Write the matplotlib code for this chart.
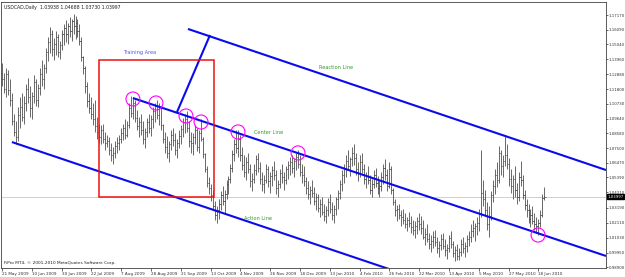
import numpy as np
import matplotlib
matplotlib.use("Agg")
import matplotlib.pyplot as plt
import matplotlib.transforms as mtransforms
from matplotlib.patches import Rectangle, Ellipse

# header / footer texts
header_text = "USDCAD,Daily  1.03938 1.04688 1.03730 1.03997"
footer_text = "FiPro MT4, \u00a9 2001-2010 MetaQuotes Software Corp."

# daily bars, 21 May 2009 .. 23 Jun 2010
first_open = 1.1300
bar_high = [
    1.1370, 1.1300, 1.1330, 1.1320, 1.1250, 1.1150, 1.1000, 1.0950, 1.1050, 1.1120,
    1.1150, 1.1130, 1.1220, 1.1260, 1.1200, 1.1160, 1.1280, 1.1250, 1.1220, 1.1330,
    1.1390, 1.1360, 1.1480, 1.1560, 1.1630, 1.1610, 1.1550, 1.1600, 1.1580, 1.1530,
    1.1610, 1.1650, 1.1680, 1.1660, 1.1700, 1.1690, 1.1725, 1.1710, 1.1690, 1.1650,
    1.1560, 1.1420, 1.1350, 1.1230, 1.1150, 1.1120, 1.1080, 1.1100, 1.0980, 1.0930,
    1.0920, 1.0930, 1.0870, 1.0850, 1.0830, 1.0790, 1.0760, 1.0800, 1.0830, 1.0850,
    1.0900, 1.0930, 1.0960, 1.0950, 1.1080, 1.1130, 1.1120, 1.1100, 1.1030, 1.0980,
    1.1000, 1.0950, 1.0900, 1.0970, 1.1000, 1.0990, 1.1050, 1.1080, 1.1100, 1.1080,
    1.1060, 1.0930, 1.0870, 1.0840, 1.0800, 1.0880, 1.0900, 1.0860, 1.0820, 1.0880,
    1.0920, 1.0970, 1.1000, 1.1020, 1.0950, 1.0870, 1.0860, 1.0920, 1.0900, 1.0880,
    1.0960, 1.0830, 1.0720, 1.0620, 1.0540, 1.0490, 1.0450, 1.0370, 1.0330, 1.0380,
    1.0440, 1.0480, 1.0450, 1.0520, 1.0550, 1.0640, 1.0740, 1.0820, 1.0880, 1.0880,
    1.0850, 1.0760, 1.0700, 1.0690, 1.0720, 1.0640, 1.0570, 1.0640, 1.0700, 1.0720,
    1.0650, 1.0580, 1.0560, 1.0640, 1.0620, 1.0580, 1.0620, 1.0660, 1.0590, 1.0520,
    1.0600, 1.0640, 1.0580, 1.0620, 1.0660, 1.0690, 1.0700, 1.0680, 1.0720, 1.0740,
    1.0700, 1.0640, 1.0620, 1.0540, 1.0510, 1.0480, 1.0520, 1.0470, 1.0430, 1.0420,
    1.0380, 1.0400, 1.0350, 1.0330, 1.0390, 1.0420, 1.0360, 1.0340, 1.0400, 1.0450,
    1.0520, 1.0590, 1.0640, 1.0700, 1.0740, 1.0690, 1.0760, 1.0780, 1.0720, 1.0650,
    1.0700, 1.0720, 1.0640, 1.0580, 1.0620, 1.0560, 1.0530, 1.0590, 1.0610, 1.0550,
    1.0520, 1.0580, 1.0640, 1.0670, 1.0600, 1.0650, 1.0620, 1.0460, 1.0380, 1.0340,
    1.0350, 1.0300, 1.0310, 1.0280, 1.0250, 1.0290, 1.0260, 1.0230, 1.0220, 1.0250,
    1.0280, 1.0260, 1.0230, 1.0170, 1.0200, 1.0140, 1.0120, 1.0150, 1.0160, 1.0110,
    1.0080, 1.0130, 1.0140, 1.0090, 1.0060, 1.0120, 1.0150, 1.0080, 1.0040, 1.0060,
    1.0030, 1.0090, 1.0110, 1.0070, 1.0120, 1.0150, 1.0200, 1.0230, 1.0210, 1.0250,
    1.0310, 1.0740, 1.0520, 1.0450, 1.0360, 1.0330, 1.0440, 1.0520, 1.0600, 1.0650,
    1.0770, 1.0740, 1.0700, 1.0850, 1.0780, 1.0680, 1.0600, 1.0560, 1.0620, 1.0500,
    1.0580, 1.0660, 1.0560, 1.0450, 1.0380, 1.0350, 1.0310, 1.0330, 1.0280, 1.0250,
    1.0240, 1.0300, 1.0420, 1.04688,
]
bar_low = [
    1.1200, 1.1150, 1.1120, 1.1140, 1.1060, 1.0920, 1.0840, 1.0780, 1.0800, 1.0900,
    1.0950, 1.0930, 1.1020, 1.1080, 1.0980, 1.0960, 1.1080, 1.1060, 1.1050, 1.1140,
    1.1200, 1.1180, 1.1300, 1.1380, 1.1440, 1.1420, 1.1390, 1.1430, 1.1410, 1.1400,
    1.1460, 1.1500, 1.1520, 1.1510, 1.1560, 1.1530, 1.1580, 1.1540, 1.1560, 1.1500,
    1.1380, 1.1290, 1.1150, 1.1050, 1.1010, 1.0960, 1.0920, 1.0870, 1.0820, 1.0790,
    1.0780, 1.0790, 1.0740, 1.0760, 1.0700, 1.0660, 1.0640, 1.0680, 1.0720, 1.0740,
    1.0790, 1.0810, 1.0820, 1.0830, 1.0900, 1.0980, 1.0960, 1.0940, 1.0880, 1.0830,
    1.0850, 1.0780, 1.0750, 1.0830, 1.0860, 1.0840, 1.0900, 1.0940, 1.0960, 1.0920,
    1.0880, 1.0790, 1.0720, 1.0680, 1.0650, 1.0740, 1.0770, 1.0700, 1.0680, 1.0750,
    1.0780, 1.0830, 1.0860, 1.0870, 1.0760, 1.0720, 1.0700, 1.0780, 1.0730, 1.0720,
    1.0800, 1.0680, 1.0580, 1.0470, 1.0420, 1.0370, 1.0300, 1.0230, 1.0210, 1.0240,
    1.0300, 1.0340, 1.0280, 1.0380, 1.0420, 1.0500, 1.0580, 1.0660, 1.0720, 1.0690,
    1.0660, 1.0590, 1.0540, 1.0520, 1.0570, 1.0470, 1.0440, 1.0500, 1.0560, 1.0580,
    1.0490, 1.0440, 1.0430, 1.0500, 1.0470, 1.0430, 1.0480, 1.0520, 1.0420, 1.0400,
    1.0460, 1.0500, 1.0450, 1.0490, 1.0530, 1.0560, 1.0570, 1.0540, 1.0590, 1.0610,
    1.0550, 1.0500, 1.0480, 1.0420, 1.0380, 1.0350, 1.0400, 1.0340, 1.0300, 1.0290,
    1.0250, 1.0270, 1.0220, 1.0210, 1.0260, 1.0280, 1.0230, 1.0210, 1.0270, 1.0310,
    1.0380, 1.0440, 1.0500, 1.0540, 1.0590, 1.0550, 1.0620, 1.0630, 1.0560, 1.0510,
    1.0540, 1.0570, 1.0490, 1.0460, 1.0490, 1.0420, 1.0400, 1.0460, 1.0470, 1.0420,
    1.0400, 1.0440, 1.0490, 1.0520, 1.0440, 1.0460, 1.0420, 1.0340, 1.0260, 1.0220,
    1.0240, 1.0190, 1.0200, 1.0170, 1.0150, 1.0180, 1.0140, 1.0120, 1.0100, 1.0130,
    1.0160, 1.0130, 1.0090, 1.0050, 1.0070, 1.0020, 1.0000, 1.0030, 1.0040, 0.9990,
    0.9960, 1.0010, 1.0020, 0.9970, 0.9950, 1.0000, 1.0030, 0.9960, 0.9930, 0.9940,
    0.9940, 0.9970, 0.9990, 0.9960, 1.0000, 1.0040, 1.0070, 1.0110, 1.0080, 1.0120,
    1.0150, 1.0250, 1.0330, 1.0260, 1.0160, 1.0110, 1.0230, 1.0360, 1.0420, 1.0470,
    1.0500, 1.0560, 1.0540, 1.0620, 1.0600, 1.0480, 1.0430, 1.0380, 1.0400, 1.0350,
    1.0370, 1.0480, 1.0380, 1.0300, 1.0250, 1.0210, 1.0180, 1.0200, 1.0160, 1.0140,
    1.0120, 1.0180, 1.0250, 1.03730,
]
bar_close = [
    1.1250, 1.1180, 1.1290, 1.1170, 1.1100, 1.0950, 1.0870, 1.0830, 1.0990, 1.1050,
    1.0980, 1.1080, 1.1180, 1.1120, 1.1040, 1.1130, 1.1230, 1.1100, 1.1190, 1.1290,
    1.1250, 1.1330, 1.1450, 1.1520, 1.1580, 1.1470, 1.1510, 1.1560, 1.1450, 1.1500,
    1.1580, 1.1620, 1.1580, 1.1640, 1.1600, 1.1670, 1.1640, 1.1660, 1.1600, 1.1530,
    1.1410, 1.1330, 1.1200, 1.1090, 1.1040, 1.1000, 1.0960, 1.0910, 1.0870, 1.0830,
    1.0880, 1.0820, 1.0790, 1.0800, 1.0740, 1.0700, 1.0720, 1.0770, 1.0790, 1.0820,
    1.0860, 1.0900, 1.0850, 1.0920, 1.1040, 1.1010, 1.1080, 1.0970, 1.0910, 1.0940,
    1.0880, 1.0820, 1.0870, 1.0940, 1.0900, 1.0960, 1.1020, 1.1060, 1.0990, 1.1050,
    1.0920, 1.0820, 1.0760, 1.0720, 1.0780, 1.0850, 1.0810, 1.0740, 1.0790, 1.0840,
    1.0890, 1.0940, 1.0960, 1.0900, 1.0800, 1.0790, 1.0830, 1.0880, 1.0760, 1.0860,
    1.0820, 1.0710, 1.0600, 1.0500, 1.0460, 1.0410, 1.0330, 1.0270, 1.0300, 1.0350,
    1.0410, 1.0370, 1.0420, 1.0490, 1.0530, 1.0610, 1.0710, 1.0780, 1.0750, 1.0820,
    1.0700, 1.0630, 1.0580, 1.0650, 1.0600, 1.0510, 1.0530, 1.0590, 1.0670, 1.0610,
    1.0530, 1.0490, 1.0520, 1.0600, 1.0510, 1.0550, 1.0590, 1.0560, 1.0460, 1.0490,
    1.0570, 1.0540, 1.0520, 1.0600, 1.0630, 1.0650, 1.0610, 1.0660, 1.0690, 1.0640,
    1.0580, 1.0560, 1.0510, 1.0460, 1.0420, 1.0450, 1.0430, 1.0370, 1.0400, 1.0320,
    1.0350, 1.0290, 1.0260, 1.0300, 1.0360, 1.0310, 1.0270, 1.0310, 1.0380, 1.0430,
    1.0490, 1.0560, 1.0610, 1.0660, 1.0620, 1.0670, 1.0720, 1.0680, 1.0600, 1.0570,
    1.0650, 1.0600, 1.0530, 1.0550, 1.0520, 1.0450, 1.0490, 1.0560, 1.0500, 1.0460,
    1.0480, 1.0540, 1.0610, 1.0560, 1.0480, 1.0600, 1.0450, 1.0360, 1.0300, 1.0310,
    1.0270, 1.0250, 1.0230, 1.0200, 1.0230, 1.0210, 1.0180, 1.0160, 1.0190, 1.0220,
    1.0200, 1.0170, 1.0110, 1.0130, 1.0090, 1.0060, 1.0080, 1.0110, 1.0070, 1.0030,
    1.0050, 1.0090, 1.0040, 1.0010, 1.0030, 1.0100, 1.0060, 0.9990, 1.0010, 0.9970,
    1.0000, 1.0060, 1.0030, 1.0040, 1.0090, 1.0110, 1.0150, 1.0170, 1.0190, 1.0210,
    1.0280, 1.0430, 1.0380, 1.0300, 1.0200, 1.0260, 1.0410, 1.0480, 1.0560, 1.0520,
    1.0720, 1.0620, 1.0660, 1.0700, 1.0640, 1.0530, 1.0480, 1.0530, 1.0450, 1.0400,
    1.0540, 1.0520, 1.0410, 1.0340, 1.0300, 1.0240, 1.0270, 1.0220, 1.0200, 1.0190,
    1.0210, 1.0270, 1.0390, 1.03997,
]
last_price = 1.03997

date_labels = ["21 May 2009", "10 Jun 2009", "30 Jun 2009", "22 Jul 2009", "7 Aug 2009",
               "28 Aug 2009", "21 Sep 2009", "13 Oct 2009", "4 Nov 2009", "26 Nov 2009",
               "18 Dec 2009", "13 Jan 2010", "4 Feb 2010", "26 Feb 2010", "22 Mar 2010",
               "13 Apr 2010", "5 May 2010", "27 May 2010", "18 Jun 2010"]
label_step = 15     # bars between date labels

price_ticks = [1.17170, 1.16090, 1.15040, 1.13960, 1.12880, 1.11800, 1.10730, 1.09640,
               1.08580, 1.07500, 1.06470, 1.05390, 1.04310, 1.03190, 1.02110, 1.01030,
               0.99950, 0.98900]

# chart objects: (bar index, price)
reaction_line = [(93.6, 1.1616), (304.0, 1.0593)]
center_line   = [(65.9, 1.1115), (304.0, 0.9970)]
action_line   = [(5.0, 1.0796), (200.0, 0.9850)]
handle_line   = [(88.1, 1.1014), (104.7, 1.1572)]
training_box  = [(48.8, 1.0398), (106.7, 1.1391)]
touch_points  = [(65.9, 1.1108), (77.5, 1.1079), (92.6, 1.0985), (100.2, 1.0941),
                 (118.8, 1.0869), (149.0, 1.0717), (269.8, 1.0122)]
labels = [("Training Area", 69.5, 1.1442, "#5555dd"),
          ("Reaction Line", 168.1, 1.1333, "#2f9a2f"),
          ("Center Line",   134.4, 1.0862, "#2f9a2f"),
          ("Action Line",   128.8, 1.0245, "#2f9a2f")]


fig = plt.figure(figsize=(6.25, 2.77), dpi=100)
ax = fig.add_axes([1/625, 9/277, 605/625, 266/277])
ax.set_xlim(-0.5, 304.0)
ax.set_ylim(0.98828, 1.18113)

# bars
x = np.arange(len(bar_high))
opens = [first_open] + bar_close[:-1]
ax.vlines(x, bar_low, bar_high, color="#404040", lw=0.55, zorder=2)
ax.hlines(opens, x - 0.55, x, color="#404040", lw=0.45, zorder=2)
ax.hlines(bar_close, x, x + 0.55, color="#404040", lw=0.45, zorder=2)

# last price line
ax.axhline(last_price, color="#c8c8c8", lw=0.6, zorder=1)

# pitchfork lines
for ln in [reaction_line, center_line, action_line, handle_line]:
    (x0, y0), (x1, y1) = ln
    ax.plot([x0, x1], [y0, y1], color="#0a0aee", lw=1.5, solid_capstyle="butt", zorder=4)

(bx0, by0), (bx1, by1) = training_box
ax.add_patch(Rectangle((bx0, by0), bx1 - bx0, by1 - by0, fill=False,
                       edgecolor="#ee1111", lw=1.1, zorder=4))

for cx, cy in touch_points:
    ax.add_patch(Ellipse((cx, cy), 7.0, 0.0102, fill=False,
                         edgecolor="#ff00ff", lw=0.8, zorder=5))

for txt, tx, ty, col in labels:
    ax.text(tx, ty, txt, color=col, fontsize=3.6, ha="center", va="center", zorder=6)

ax.text(0.005, 0.99, header_text, transform=ax.transAxes, fontsize=3.3,
        ha="left", va="top", color="#202020")
ax.text(0.005, 0.012, footer_text, transform=ax.transAxes, fontsize=3.1,
        ha="left", va="bottom", color="#202020")

# axes
ax.yaxis.tick_right()
ax.set_yticks(price_ticks)
ax.set_yticklabels(["%.5f" % p for p in price_ticks])
ax.set_xticks(np.arange(len(date_labels)) * label_step)
ax.set_xticklabels(date_labels)
for lbl in ax.get_xticklabels():
    lbl.set_ha("left")
ax.tick_params(axis="y", labelsize=2.8, length=1.5, width=0.5, pad=0.5, colors="#303030")
ax.tick_params(axis="x", labelsize=3.0, length=2.0, width=0.5, pad=1, colors="#303030")
for sp in ax.spines.values():
    sp.set_color("#404040")
    sp.set_linewidth(0.6)

trans = mtransforms.blended_transform_factory(ax.transAxes, ax.transData)
ax.text(1.0 + 1.5/605, last_price, "%.5f" % last_price, transform=trans, fontsize=2.8,
        color="white", ha="left", va="center", zorder=10, clip_on=False,
        bbox=dict(boxstyle="square,pad=0.15", facecolor="black", edgecolor="black"))

fig.savefig("out.png", dpi=100, facecolor="white")
